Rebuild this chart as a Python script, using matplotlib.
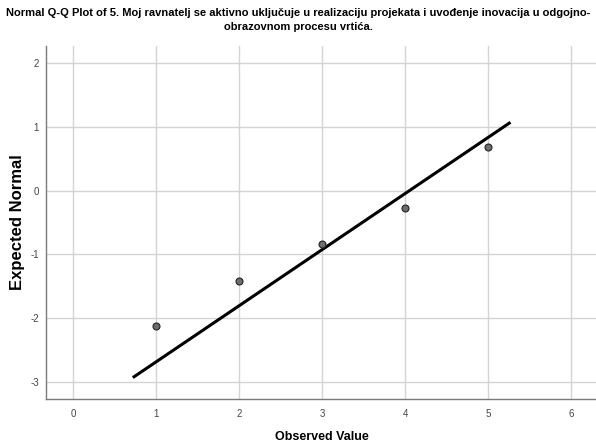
import numpy as np
import matplotlib.pyplot as plt

# observed values and expected normal scores
observed = [1, 2, 3, 4, 5]
expected = [-2.12, -1.415, -0.832, -0.266, 0.685]

# reference line (observed -> expected)
line_x = [0.72, 5.27]
line_y = [-2.93, 1.07]

x_ticks = [0, 1, 2, 3, 4, 5, 6]
y_ticks = [-3, -2, -1, 0, 1, 2]

title_1 = "Normal Q-Q Plot of 5. Moj ravnatelj se aktivno uključuje u realizaciju projekata i uvođenje inovacija u odgojno-"
title_2 = "obrazovnom procesu vrtića."

plt.rcParams['font.family'] = ['Liberation Sans', 'DejaVu Sans']
plt.rcParams['axes.unicode_minus'] = False

fig = plt.figure(figsize=(5.96, 4.43), dpi=100)
ax = fig.add_axes([0.0767, 0.0986, 0.9233, 0.7982])

ax.set_xlim(-0.329, 6.30)
ax.set_ylim(-3.27, 2.27)
ax.set_xticks(x_ticks)
ax.set_yticks(y_ticks)
ax.grid(True, color='#d4d4d4', linewidth=1.0)
ax.set_axisbelow(True)
ax.tick_params(axis='x', length=0, labelsize=7, colors='#444444', pad=7)
ax.tick_params(axis='y', length=0, labelsize=7, colors='#444444', pad=5)

for s in ['top', 'right']:
    ax.spines[s].set_visible(False)
for s in ['left', 'bottom']:
    ax.spines[s].set_color('#7a7a7a')
    ax.spines[s].set_linewidth(1.0)

ax.plot(line_x, line_y, color='black', linewidth=2.2, solid_capstyle='butt')
ax.plot(observed, expected, 'o', markersize=5, markerfacecolor='#6e6e6e',
        markeredgecolor='#222222', markeredgewidth=0.8)

# title: shrink until the long first line is about 580 px wide
t1 = fig.text(0.5, 1 - 13 / 443, title_1, ha='center', va='center', fontsize=9.5, fontweight='bold')
t2 = fig.text(0.5, 1 - 27 / 443, title_2, ha='center', va='center', fontsize=9.5, fontweight='bold')
fig.canvas.draw()
w = t1.get_window_extent().width
fs = 9.5 * 580 / w
t1.set_fontsize(fs)
t2.set_fontsize(fs)

fig.text(322 / 596, 1 - 437 / 443, 'Observed Value', ha='center', va='center',
         fontsize=9, fontweight='bold')
fig.text(18 / 596, 1 - 222 / 443, 'Expected Normal', ha='center', va='center',
         rotation=90, fontsize=12, fontweight='bold')

fig.savefig('out.png', dpi=100)
